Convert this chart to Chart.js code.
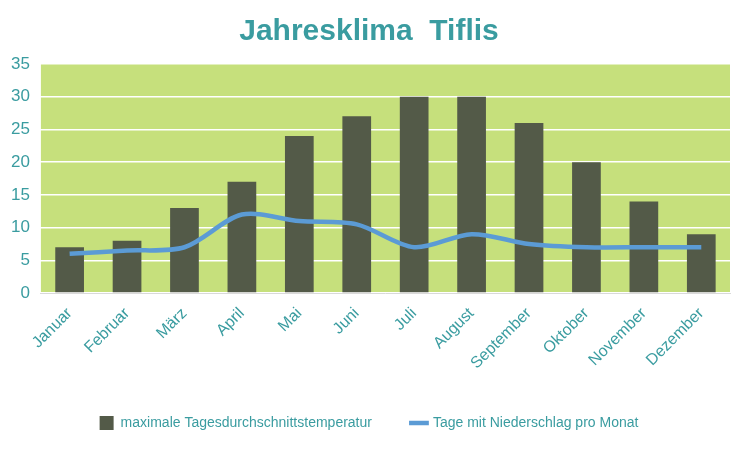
<!DOCTYPE html>
<html lang="de">
<head>
<meta charset="UTF-8">
<title>Jahresklima Tiflis</title>
<script src="https://cdn.jsdelivr.net/npm/chart.js"></script>
<style>
  body { margin: 0; background: #fff; }
</style>
</head>
<body>
<canvas id="klimaChart" width="750" height="450"></canvas>
<script>
var months = ['Januar', 'Februar', 'März', 'April', 'Mai', 'Juni', 'Juli', 'August', 'September', 'Oktober', 'November', 'Dezember'];
var maxTemp = [7, 8, 13, 17, 24, 27, 30, 30, 26, 20, 14, 9];
var rainDays = [6, 6.5, 7, 12, 11, 10.5, 7, 9, 7.5, 7, 7, 7];

var teal = '#3a9ca0';

var plotBg = {
    id: 'plotBg',
    beforeDraw: function(chart) {
        var a = chart.chartArea, ctx = chart.ctx;
        ctx.save();
        ctx.fillStyle = '#c6e07c';
        ctx.fillRect(a.left, a.top, a.right - a.left, a.bottom - a.top);
        ctx.restore();
    }
};

var ctx = document.getElementById('klimaChart').getContext('2d');
new Chart(ctx, {
    type: 'bar',
    data: {
        labels: months,
        datasets: [{
            type: 'line',
            label: 'Tage mit Niederschlag pro Monat',
            data: rainDays,
            borderColor: '#5b9bd5',
            backgroundColor: '#5b9bd5',
            borderWidth: 4.5,
            pointRadius: 0,
            tension: 0.3,
            pointStyle: 'line',
            order: 0
        }, {
            label: 'maximale Tagesdurchschnittstemperatur',
            data: maxTemp,
            backgroundColor: '#535a48',
            categoryPercentage: 1,
            barPercentage: 0.5,
            pointStyle: 'rect',
            order: 1
        }]
    },
    options: {
        responsive: false,
        animation: false,
        layout: { padding: { left: 8, right: 20, top: 0, bottom: 10 } },
        plugins: {
            title: {
                display: true,
                text: 'Jahresklima  Tiflis',
                color: teal,
                font: { family: 'Arial, Liberation Sans', size: 30, weight: 'bold' },
                padding: { top: 14, bottom: 14 }
            },
            legend: {
                position: 'bottom',
                reverse: true,
                labels: {
                    usePointStyle: true,
                    color: teal,
                    font: { family: 'Arial, Liberation Sans', size: 14 },
                    padding: 40,
                    boxWidth: 40
                }
            },
            tooltip: { enabled: false }
        },
        scales: {
            x: {
                grid: { display: false },
                border: { color: '#d9d9d9' },
                ticks: {
                    color: teal,
                    maxRotation: 45,
                    minRotation: 45,
                    font: { family: 'Arial, Liberation Sans', size: 16 }
                }
            },
            y: {
                min: 0,
                max: 35,
                ticks: {
                    stepSize: 5,
                    color: teal,
                    font: { family: 'Arial, Liberation Sans', size: 17 }
                },
                grid: { color: '#ffffff', lineWidth: 1.5 },
                border: { display: false }
            }
        }
    },
    plugins: [plotBg]
});
</script>
</body>
</html>
